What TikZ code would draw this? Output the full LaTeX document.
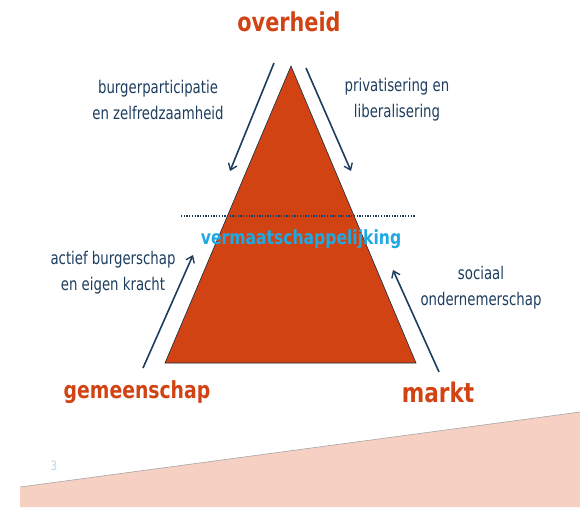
\documentclass[tikz,border=0pt]{standalone}
\usepackage{fontspec}
\setmainfont{DejaVu Sans}[FakeStretch=0.8]
\newfontfamily\lblfont{DejaVu Sans}[FakeStretch=0.76]
\usetikzlibrary{arrows.meta}
\definecolor{tri}{HTML}{D24314}
\definecolor{navy}{HTML}{1D3D5E}
\definecolor{cyanv}{HTML}{1EA9E1}
\definecolor{pinkb}{HTML}{F5D0C3}
\definecolor{numc}{HTML}{BCD7EE}
\tikzset{
  lbl/.style={text=navy, align=center, inner sep=0pt, anchor=base, font=\lblfont\fontsize{17.5}{25.5}\selectfont},
  head/.style={text=tri, inner sep=0pt, anchor=base, font=\bfseries},
  flow/.style={draw=navy, line width=1.6pt, -{Straight Barb[length=6pt,width=9pt,line width=1.4pt]}},
}
\begin{document}
\begin{tikzpicture}[x=1pt,y=-1pt]
\useasboundingbox (0,0) rectangle (580,507);
% bottom band
\fill[pinkb] (20,487) -- (580,412) -- (580,507) -- (20,507) -- cycle;
\draw[gray!70, line width=0.6pt] (20,487) -- (580,412);
\node[text=numc, inner sep=0pt, font=\fontsize{13}{13}\selectfont] (num) at (54,466) {3};
% triangle
\coordinate (apex) at (291,66);
\coordinate (bl) at (165,363);
\coordinate (br) at (416,363);
\filldraw[fill=tri, draw=navy!70!black, line width=0.6pt] (apex) -- (bl) -- (br) -- cycle;
% dotted line
\coordinate (d1) at (181,216);
\coordinate (d2) at (415,216);
\draw[navy, line width=1.3pt, dash pattern=on 1.3pt off 1.4pt] (d1) -- (d2);
\node[text=cyanv, inner sep=0pt, anchor=base, font=\bfseries\fontsize{19.5}{20}\selectfont] (verm) at (301,244) {vermaatschappelijking};
% headings
\node[head, font=\bfseries\fontsize{26}{26}\selectfont] (overheid) at (289,31) {overheid};
\node[head, font=\bfseries\fontsize{23.5}{24}\selectfont] (gemeen) at (137,398) {gemeenschap};
\node[head, font=\bfseries\fontsize{27}{27}\selectfont] (markt) at (438,402) {markt};
% labels (anchor = baseline of last line)
\node[lbl] (burg) at (158,119) {burgerparticipatie\\en zelfredzaamheid};
\node[lbl] (priv) at (397,117) {privatisering en\\liberalisering};
\node[lbl] (actief) at (113,290) {actief burgerschap\\en eigen kracht};
\node[lbl] (soc) at (481,305) {sociaal\\ondernemerschap};
% arrows
\coordinate (a1s) at (274,63); \coordinate (a1e) at (230,171);
\coordinate (a2s) at (306,68); \coordinate (a2e) at (351,171);
\coordinate (a3s) at (143,368); \coordinate (a3e) at (193,255);
\coordinate (a4s) at (439,372); \coordinate (a4e) at (393,270);
\draw[flow] (a1s) -- (a1e);
\draw[flow] (a2s) -- (a2e);
\draw[flow] (a3s) -- (a3e);
\draw[flow] (a4s) -- (a4e);
\end{tikzpicture}
\end{document}
